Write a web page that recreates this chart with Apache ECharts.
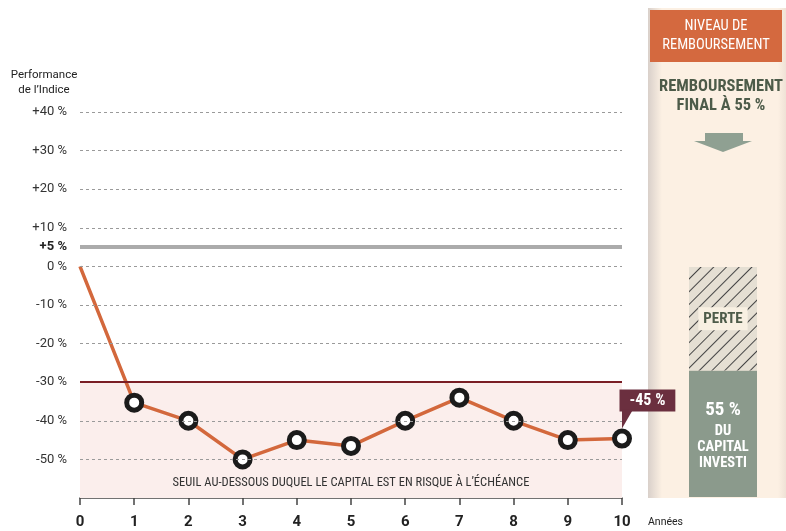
<!DOCTYPE html>
<html><head><meta charset="utf-8">
<script src="https://cdn.jsdelivr.net/npm/echarts@6/dist/echarts.min.js"></script>
<style>html,body{margin:0;padding:0;background:#fff}#c{width:786px;height:531px}</style>
</head><body><div id="c"></div>
<script>
const years = [0,1,2,3,4,5,6,7,8,9,10];
const performance = [0,-35.3,-40,-50,-45,-46.5,-40,-34,-40,-45,-44.6];
const gridLevels = [40,30,20,10,0,-10,-20,-40,-50];
const capLevel = 5;
const riskThreshold = -30;
const finalLabel = '-45 %';
const repayment = [55];
const loss = [45];

const COND = "'Roboto Condensed','Liberation Sans Narrow','DejaVu Sans Condensed',Roboto,sans-serif";
const chart = echarts.init(document.getElementById('c'), null, {renderer:'canvas'});

function fmtPct(v){ if(v>0) return '+'+v+' %'; return v+' %'; }

const lineData = years.map((x,i)=>{
  const d = {value:[x, performance[i]]};
  if(i===0){ d.symbolSize = 0; }
  if(i===years.length-1){
    d.label = {show:true, formatter: finalLabel, position:[7.5,-39], align:'left', verticalAlign:'top',
      color:'#fff', fontWeight:'bold', fontSize:16, fontFamily:COND, backgroundColor:'#6b2f3f',
      padding:[3,10,3,10]};
  }
  return d;
});

const option = {
  animation:false,
  grid:[
    {left:80, right:164, top:112, bottom:33},
    {left:689, width:68, top:267, bottom:34}
  ],
  xAxis:[
    {type:'value', gridIndex:0, min:0, max:10, interval:1,
     axisLine:{show:true, onZero:false, lineStyle:{color:'#444', width:1.5}},
     axisTick:{show:true, length:7, lineStyle:{color:'#444', width:1.5}},
     axisLabel:{margin:17, color:'#222', fontWeight:'bold', fontSize:15, fontFamily:'Roboto'},
     splitLine:{show:false}},
    {type:'category', gridIndex:1, data:['capital'], show:false}
  ],
  yAxis:[
    {type:'value', gridIndex:0, min:-60, max:40, interval:5,
     axisLine:{show:false}, axisTick:{show:false}, splitLine:{show:false},
     axisLabel:{margin:13, color:'#333', fontSize:13, fontFamily:'Roboto',
       formatter:function(v){
         if(v===capLevel) return '{b|'+fmtPct(v)+'}';
         if(v%10!==0 || v===-60) return '';
         return fmtPct(v);
       },
       rich:{b:{fontWeight:'bold', fontSize:13, color:'#222', fontFamily:'Roboto'}}}},
    {type:'value', gridIndex:1, min:0, max:100, show:false}
  ],
  series:[
    {type:'line', xAxisIndex:0, yAxisIndex:0, data:[], z:1, silent:true,
     markArea:{silent:true, itemStyle:{color:'#fbeeec'},
       label:{show:true, position:'insideBottom', distance:9, color:'#333', fontSize:12.5, fontFamily:COND,
         formatter:'SEUIL AU-DESSOUS DUQUEL LE CAPITAL EST EN RISQUE À L’ÉCHÉANCE'},
       data:[[{yAxis:riskThreshold},{yAxis:-60}]]},
     markLine:{silent:true, symbol:'none', label:{show:false},
       data: gridLevels.map(v=>({yAxis:v, lineStyle:{type:[3,3], color:'#9a9a9a', width:1}}))
         .concat([{yAxis:capLevel, lineStyle:{type:'solid', color:'#ababab', width:4}},
                  {yAxis:riskThreshold, lineStyle:{type:'solid', color:'#7a1e25', width:2}}])}
    },
    {type:'line', xAxisIndex:0, yAxisIndex:0, data:lineData, z:3,
     lineStyle:{color:'#d3683c', width:3.5},
     symbol:'circle', symbolSize:15,
     itemStyle:{color:'#fff', borderColor:'#1b1b1b', borderWidth:5}},
    {type:'bar', xAxisIndex:1, yAxisIndex:1, stack:'cap', data:repayment, barWidth:'100%', z:5,
     itemStyle:{color:'#8b9a8c'},
     label:{show:true, position:'inside', formatter:'{a|55 %}\n{b|DU}\n{b|CAPITAL}\n{b|INVESTI}',
       rich:{a:{color:'#fff', fontWeight:'bold', fontSize:19, fontFamily:COND, lineHeight:28},
             b:{color:'#fff', fontWeight:'bold', fontSize:14.5, fontFamily:COND, lineHeight:16}}}},
    {type:'bar', xAxisIndex:1, yAxisIndex:1, stack:'cap', data:loss, barWidth:'100%', z:5,
     itemStyle:{color:'#e5dfd3', decal:{symbol:'rect', symbolSize:1, dashArrayX:[1,0], dashArrayY:[1,8], rotation:-Math.PI/4, color:'#444'}},
     label:{show:true, position:'inside', formatter:'PERTE', color:'#4d5b49', fontWeight:'bold', fontSize:15,
       fontFamily:COND, backgroundColor:'#f8f0e2', padding:[4,5]}}
  ],
  graphic:[
    {type:'rect', z:-10, shape:{x:648, y:8, width:138, height:490}, style:{fill:'#fcf0e3'}},
    {type:'rect', z:-9, shape:{x:648, y:8, width:14, height:490},
     style:{fill:new echarts.graphic.LinearGradient(0,0,1,0,[{offset:0,color:'#d9d0ca'},{offset:1,color:'#fcf0e3'}])}},
    {type:'rect', z:-9, shape:{x:778, y:8, width:8, height:490},
     style:{fill:new echarts.graphic.LinearGradient(0,0,1,0,[{offset:0,color:'#fcf0e3'},{offset:1,color:'#efe2d6'}])}},
    {type:'rect', shape:{x:650, y:10, width:132, height:52}, style:{fill:'#d4693f'}},
    {type:'text', x:716, y:36, style:{text:'NIVEAU DE\nREMBOURSEMENT', fill:'#fff', font:'14.5px '+COND, align:'center', verticalAlign:'middle', lineHeight:19}},
    {type:'text', x:721, y:96, style:{text:'REMBOURSEMENT\nFINAL À 55 %', fill:'#4d5b49', font:'bold 16.5px '+COND, align:'center', verticalAlign:'middle', lineHeight:19}},
    {type:'polygon', shape:{points:[[705,133],[743,133],[743,141],[752,141],[723,152],[694,141],[705,141]]}, style:{fill:'#8fa092'}},
    {type:'text', x:44, y:83, style:{text:'Performance\nde l’Indice', fill:'#222', font:'11.5px Roboto', align:'center', verticalAlign:'middle', lineHeight:15}},
    {type:'text', x:648, y:522, style:{text:'Années', fill:'#222', font:'10.5px Roboto', align:'left', verticalAlign:'middle'}}
  ]
};
chart.setOption(option);

const p = chart.convertToPixel({gridIndex:0}, [years[years.length-1], performance[performance.length-1]]);
chart.setOption({graphic: option.graphic.concat([
  {type:'polygon', z:10, shape:{points:[[p[0], p[1]-29],[p[0]+11, p[1]-29],[p[0], p[1]-10]]}, style:{fill:'#6b2f3f'}}
])});
</script></body></html>
